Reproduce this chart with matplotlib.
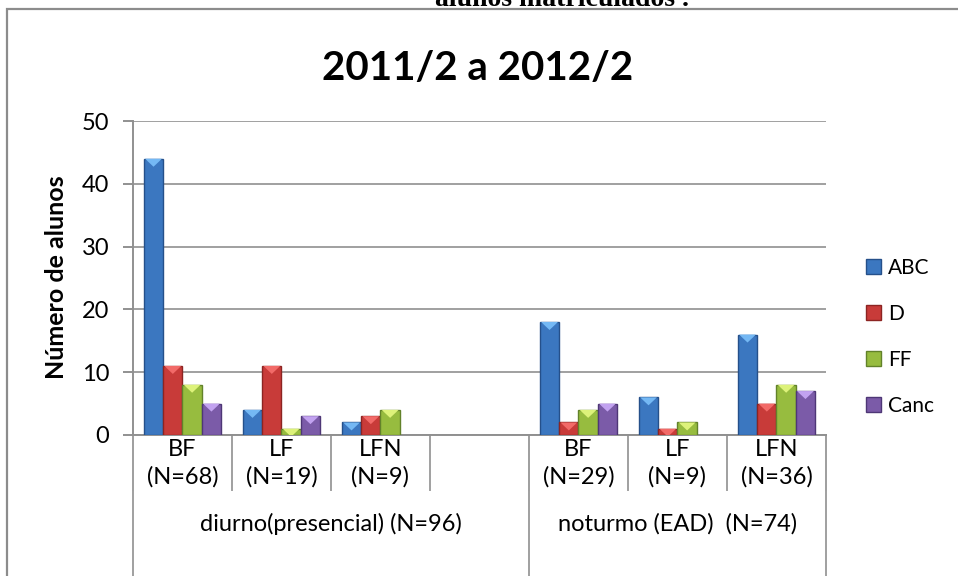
import matplotlib.pyplot as plt
from matplotlib.patches import Polygon, Patch, Rectangle
import numpy as np

plt.rcParams['font.family'] = ['Lato', 'DejaVu Sans']

# Dados
cursos = ['BF\n(N=68)', 'LF\n(N=19)', 'LFN\n(N=9)', '', 'BF\n(N=29)', 'LF\n(N=9)', 'LFN\n(N=36)']
grupos = ['diurno(presencial) (N=96)', 'noturmo (EAD)  (N=74)']
grupo_cursos = [4, 3]  # quantidade de categorias em cada grupo
series = ['ABC', 'D', 'FF', 'Canc']
abc = [44, 4, 2, 0, 18, 6, 16]
d = [11, 11, 3, 0, 2, 1, 5]
ff = [8, 1, 4, 0, 4, 2, 8]
canc = [5, 3, 0, 0, 5, 0, 7]
valores = [abc, d, ff, canc]

cores = ['#3B77C0', '#C83B39', '#97BC3F', '#7B5BA8']
bordas = ['#25508A', '#8C2422', '#62822A', '#4E3776']
topos = ['#74B8F4', '#F26A68', '#DDF27A', '#C2A2F0']

fig = plt.figure(figsize=(9.58, 5.76), dpi=100)
ax = fig.add_axes([0.1388, 0.2448, 0.7234, 0.545])

x = np.arange(len(cursos))
largura = 0.195
ax.set_xlim(-0.5, len(cursos) - 0.5)
ax.set_ylim(0, 50)

barras = []
for k, vals in enumerate(valores):
    b = ax.bar(x + (k - 1.5) * largura, vals, largura, color=cores[k],
               edgecolor=bordas[k], linewidth=1, zorder=3)
    barras.append(b)

# efeito de bisel no topo das barras
fig.canvas.draw()
px_unidade = ax.transData.transform((0, 1))[1] - ax.transData.transform((0, 0))[1]
prof = 8 / px_unidade
for k, b in enumerate(barras):
    for p in b.patches:
        h = p.get_height()
        if h <= 0:
            p.set_visible(False)
            continue
        x0 = p.get_x() + 0.012
        w = p.get_width() - 0.024
        if h >= prof:
            pts = [(x0, h), (x0 + w, h), (x0 + w / 2, h - prof)]
        else:
            f = h / prof
            pts = [(x0, h), (x0 + w, h), (x0 + w / 2 + w / 2 * (1 - f), 0),
                   (x0 + w / 2 * f, 0)]
        ax.add_patch(Polygon(pts, closed=True, facecolor=topos[k],
                             edgecolor='none', zorder=4))

ax.yaxis.grid(True, color='#A0A0A0', linewidth=1.4, zorder=0)
ax.set_axisbelow(True)
ax.set_yticks(range(0, 51, 10))
ax.tick_params(axis='y', labelsize=17, length=7, width=1.4, color='#909090', pad=10)
ax.set_xticks([])
for s in ['top', 'right']:
    ax.spines[s].set_visible(False)
for s in ['left', 'bottom']:
    ax.spines[s].set_color('#909090')
    ax.spines[s].set_linewidth(1.4)

# eixo x em dois níveis
tr = ax.get_xaxis_transform()
for i, nome in enumerate(cursos):
    ax.text(i, -0.014, nome, transform=tr, ha='center', va='top', fontsize=17,
            linespacing=1.3)
for i in range(len(cursos) + 1):
    ax.plot([i - 0.5, i - 0.5], [0, -0.175], transform=tr, color='#A0A0A0',
            linewidth=1.4, clip_on=False)
inicio = -0.5
for nome, n in zip(grupos, grupo_cursos):
    fim = inicio + n
    ax.plot([inicio, inicio], [0, -0.46], transform=tr, color='#A0A0A0',
            linewidth=1.4, clip_on=False)
    ax.text((inicio + fim) / 2, -0.283, nome, transform=tr, ha='center',
            va='center', fontsize=17)
    inicio = fim
ax.plot([inicio, inicio], [0, -0.46], transform=tr, color='#A0A0A0',
        linewidth=1.4, clip_on=False)

fig.text(57 / 958, 1 - 277 / 576, 'Número de alunos', rotation=90, ha='center',
         va='center', fontsize=18, fontweight='bold')
fig.text(478 / 958, 1 - 68 / 576, '2011/2 a 2012/2', ha='center', va='center',
         fontsize=29, fontweight='bold')
fig.text(562 / 958, 1 - 6 / 576, 'alunos matriculados .', ha='center',
         va='baseline', fontsize=20, fontweight='bold', family='Liberation Serif')

# moldura do gráfico
fig.add_artist(Rectangle((7 / 958, -0.05), 1.2, 1 - 9 / 576 + 0.05,
                         transform=fig.transFigure, facecolor='none',
                         edgecolor='#8C8C8C', linewidth=1.6))

handles = [Patch(facecolor=cores[k], edgecolor=bordas[k]) for k in range(4)]
fig.legend(handles, series, loc='center left', bbox_to_anchor=(866 / 958, 1 - 337 / 576),
           frameon=False, fontsize=15, labelspacing=1.25, handlelength=0.7,
           handleheight=0.7, handletextpad=0.35, borderaxespad=0, borderpad=0)

fig.savefig('out.png', dpi=100)
